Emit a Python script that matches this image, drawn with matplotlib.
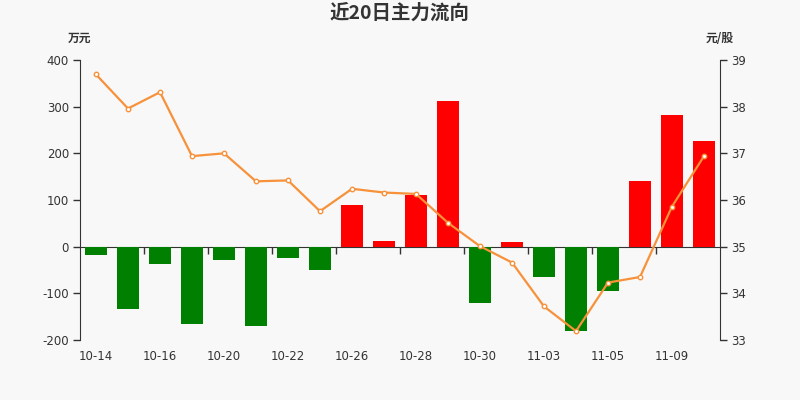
import matplotlib
matplotlib.use("Agg")
import matplotlib.pyplot as plt
import numpy as np

dates = ["10-14", "10-15", "10-16", "10-19", "10-20", "10-21", "10-22", "10-23",
         "10-26", "10-27", "10-28", "10-29", "10-30", "11-02", "11-03", "11-04",
         "11-05", "11-06", "11-09", "11-10"]
flow = [-18, -133, -38, -166, -28, -169, -25, -49, 90, 12, 110, 312, -121, 9,
        -66, -180, -95, 141, 282, 226]
price = [38.69, 37.96, 38.31, 36.94, 37.00, 36.40, 36.42, 35.76, 36.24, 36.16,
         36.13, 35.51, 35.01, 34.66, 33.72, 33.19, 34.23, 34.35, 35.86, 36.94]
left_ticks = [-200, -100, 0, 100, 200, 300, 400]
right_ticks = [33, 34, 35, 36, 37, 38, 39]

plt.rcParams['font.family'] = ['DejaVu Sans', 'Noto Sans CJK SC']
plt.rcParams['axes.unicode_minus'] = False
BG = "#f8f8f8"
TXT = "#333333"

fig = plt.figure(figsize=(8, 4), dpi=100, facecolor=BG)
ax = fig.add_axes([0.1, 0.15, 0.8, 0.7], facecolor=BG)

x = np.arange(len(dates))
colors = ["#ff0000" if v >= 0 else "#008000" for v in flow]
ax.bar(x, flow, width=0.68, color=colors, zorder=2)
ax.set_xlim(-0.5, len(dates) - 0.5)
ax.set_ylim(left_ticks[0], left_ticks[-1])
ax.set_yticks(left_ticks)

for s in ["top", "right", "bottom"]:
    ax.spines[s].set_visible(False)
ax.spines["left"].set_color(TXT)
ax.tick_params(axis="y", colors=TXT, labelsize=8.5, length=5, width=1, pad=3)

# date labels at every other bar, no tick marks
ax.set_xticks(x[::2])
ax.set_xticklabels(dates[::2])
ax.tick_params(axis="x", length=0, labelsize=8.5, colors=TXT, pad=7)

# zero axis line with boundary ticks
sec = ax.secondary_xaxis(0, transform=ax.transData)
sec.set_xticks(x[1::2][:-1] + 0.5)
sec.set_xticklabels([])
sec.tick_params(axis="x", length=5, width=1, colors=TXT, direction="out")
sec.spines["bottom"].set_color(TXT)

ax2 = ax.twinx()
ax2.set_ylim(right_ticks[0], right_ticks[-1])
ax2.set_yticks(right_ticks)
ax2.plot(x, price, color="#f7913a", lw=1.6, marker="o", markersize=3.2,
         markerfacecolor="white", markeredgecolor="#f7913a", markeredgewidth=1, zorder=3)
for s in ["top", "left", "bottom"]:
    ax2.spines[s].set_visible(False)
ax2.spines["right"].set_color(TXT)
ax2.tick_params(axis="y", colors=TXT, labelsize=8.5, length=5, width=1, pad=3)

fig.text(0.5, 0.967, "近20日主力流向", ha="center", va="center", fontsize=14,
         fontweight="bold", color=TXT, family=["Noto Sans CJK SC", "DejaVu Sans"])
fig.text(0.1, 0.903, "万元", ha="center", va="center", fontsize=8.5,
         fontweight="bold", color=TXT, family=["Noto Sans CJK SC", "DejaVu Sans"])
fig.text(0.9, 0.903, "元/股", ha="center", va="center", fontsize=8.5,
         fontweight="bold", color=TXT, family=["Noto Sans CJK SC", "DejaVu Sans"])

fig.savefig("out.png", dpi=100, facecolor=BG)
